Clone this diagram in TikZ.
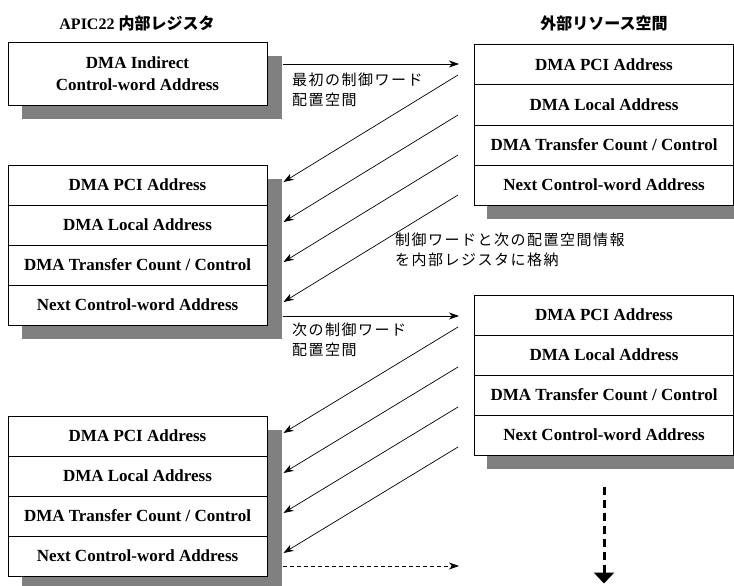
\documentclass[tikz,border=0pt]{standalone}
\usepackage{fontspec}
\setmainfont{Liberation Serif}
\newfontfamily\jp[LetterSpace=10]{Noto Sans CJK JP}
\newfontfamily\jpt{Noto Sans CJK JP}
\usetikzlibrary{arrows.meta,calc}
\pgfdeclarelayer{bg}
\pgfsetlayers{bg,main}
\definecolor{shadowgray}{RGB}{128,128,128}
\begin{document}
\begin{tikzpicture}[x=1pt,y=-1pt,
  row/.style={draw, line width=1pt, fill=white, minimum width=259pt, minimum height=40pt, inner sep=0pt, font=\fontsize{17}{22}\selectfont\bfseries},
  conn/.style={-{Stealth[length=10pt,width=7pt,inset=3pt]}, line width=0.7pt},
  dconn/.style={conn, dash pattern=on 4pt off 3pt},
  bigdash/.style={line width=3pt, dash pattern=on 8pt off 5pt, -{Triangle[length=11pt,width=20pt]}},
  lbl/.style={anchor=west, align=left, font=\jp\fontsize{15}{20}\selectfont, inner sep=0pt},
  title/.style={font=\fontsize{16}{20}\selectfont\bfseries, inner sep=0pt}]
\useasboundingbox (0,0) rectangle (734,586);
\clip (0,0) rectangle (734,586);

% titles
\node[title] (T1) at (137,23) {APIC22 {\jpt 内部レジスタ}};
\node[title] (T2) at (604,23) {\jpt 外部リソース空間};

% left box 1
\node[row, minimum height=62pt, align=center] (L1) at (137.5,74) {DMA Indirect\\Control-word Address};

% left box 2
\node[row] (L2a) at (137.5,185) {DMA PCI Address};
\node[row] (L2b) at (137.5,225) {DMA Local Address};
\node[row] (L2c) at (137.5,265) {DMA Transfer Count / Control};
\node[row] (L2d) at (137.5,305) {Next Control-word Address};

% left box 3
\node[row] (L3a) at (137.5,436) {DMA PCI Address};
\node[row] (L3b) at (137.5,476) {DMA Local Address};
\node[row] (L3c) at (137.5,516) {DMA Transfer Count / Control};
\node[row] (L3d) at (137.5,556) {Next Control-word Address};

% right box 1
\node[row] (R1a) at (604,65) {DMA PCI Address};
\node[row] (R1b) at (604,105) {DMA Local Address};
\node[row] (R1c) at (604,145) {DMA Transfer Count / Control};
\node[row] (R1d) at (604,185) {Next Control-word Address};

% right box 2
\node[row] (R2a) at (604,315) {DMA PCI Address};
\node[row] (R2b) at (604,355) {DMA Local Address};
\node[row] (R2c) at (604,395) {DMA Transfer Count / Control};
\node[row] (R2d) at (604,435) {Next Control-word Address};

% shadows
\begin{pgfonlayer}{bg}
\fill[shadowgray] ($(L1.north west)+(14,14)$) rectangle ($(L1.south east)+(14,13)$);
\fill[shadowgray] ($(L2a.north west)+(14,14)$) rectangle ($(L2d.south east)+(14,13)$);
\fill[shadowgray] ($(L3a.north west)+(14,14)$) rectangle ($(L3d.south east)+(14,13)$);
\fill[shadowgray] ($(R1a.north west)+(13,14)$) rectangle ($(R1d.south east)+(13,13)$);
\fill[shadowgray] ($(R2a.north west)+(13,14)$) rectangle ($(R2d.south east)+(13,13)$);
\end{pgfonlayer}

% horizontal arrows
\coordinate (xr) at (459,0);
\coordinate (h1) at ($(L1.east)+(15,-10)$);
\draw[conn] (h1) -- (h1 -| xr);
\coordinate (h2) at ($(L2d.east)+(15,11)$);
\draw[conn] (h2) -- (h2 -| xr);
\coordinate (h3) at ($(L3d.east)+(15,10)$);
\draw[dconn] (h3) -- (h3 -| xr);

% diagonal arrows set 1
\foreach \r/\l in {R1a/L2a,R1b/L2b,R1c/L2c,R1d/L2d}{
  \draw[conn] ($(\r.west)+(-16,10)$) -- ($(\l.east)+(16,-3)$);
}
% diagonal arrows set 2
\foreach \r/\l in {R2a/L3a,R2b/L3b,R2c/L3c,R2d/L3d}{
  \draw[conn] ($(\r.west)+(-16,12)$) -- ($(\l.east)+(16,-3)$);
}

% labels
\node[lbl] (lab1) at (292,90) {最初の制御ワード\\配置空間};
\node[lbl] (lab2) at (395,250) {制御ワードと次の配置空間情報\\を内部レジスタに格納};
\node[lbl] (lab3) at (292,340) {次の制御ワード\\配置空間};

% vertical dashed arrow
\draw[bigdash] ($(R2d.south)+(0,31)$) -- ($(R2d.south)+(0,128)$);
\end{tikzpicture}
\end{document}
